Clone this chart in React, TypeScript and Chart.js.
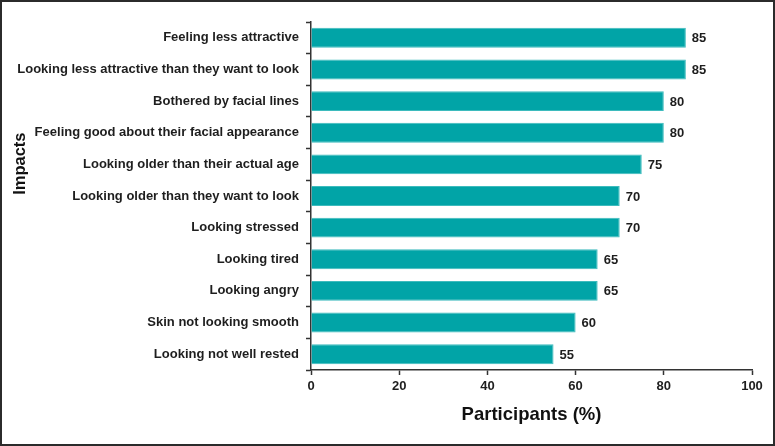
import React, { useEffect, useRef } from "react";
import { Chart, registerables } from "chart.js";

Chart.register(...registerables);

const categories: string[] = [
  "Feeling less attractive",
  "Looking less attractive than they want to look",
  "Bothered by facial lines",
  "Feeling good about their facial appearance",
  "Looking older than their actual age",
  "Looking older than they want to look",
  "Looking stressed",
  "Looking tired",
  "Looking angry",
  "Skin not looking smooth",
  "Looking not well rested",
];

const participants: number[] = [85, 85, 80, 80, 75, 70, 70, 65, 65, 60, 55];

const xTicks: number[] = [0, 20, 40, 60, 80, 100];

const yTitle = "Impacts";
const xTitle = "Participants (%)";

const FONT = "'Liberation Sans', Arial, sans-serif";
const TEXT = "#1e1e1e";
const AXIS = "#333333";

const valueLabels = {
  id: "valueLabels",
  afterDatasetsDraw(chart: any) {
    const ctx = chart.ctx;
    const meta = chart.getDatasetMeta(0);
    ctx.save();
    ctx.font = `bold 13px ${FONT}`;
    ctx.fillStyle = TEXT;
    ctx.textAlign = "left";
    ctx.textBaseline = "middle";
    meta.data.forEach((bar: any, i: number) => {
      const v = chart.data.datasets[0].data[i];
      ctx.fillText(String(v), bar.x + 6, bar.y + 1);
    });
    ctx.restore();
  },
};

// y-axis title, placed where the reference has it (above the plot's centre)
const yAxisTitle = {
  id: "yAxisTitle",
  afterDraw(chart: any) {
    const ctx = chart.ctx;
    const area = chart.chartArea;
    ctx.save();
    ctx.font = `bold 16.5px ${FONT}`;
    ctx.fillStyle = "#111";
    ctx.textAlign = "center";
    ctx.textBaseline = "middle";
    ctx.translate(18, area.top + (area.bottom - area.top) * 0.407);
    ctx.rotate(-Math.PI / 2);
    ctx.fillText(yTitle, 0, 0);
    ctx.restore();
  },
};

export default function App() {
  const ref = useRef<HTMLCanvasElement | null>(null);

  useEffect(() => {
    document.body.style.margin = "0";
    const canvas = ref.current;
    if (!canvas) return;
    const chart = new Chart(canvas, {
      type: "bar",
      data: {
        labels: categories,
        datasets: [
          {
            data: participants,
            backgroundColor: "#01A4A7",
            borderColor: "#3dbbbd",
            borderWidth: 1,
            barPercentage: 0.63,
            categoryPercentage: 1,
          },
        ],
      },
      options: {
        indexAxis: "y",
        responsive: false,
        animation: false,
        layout: { padding: { top: 20, right: 21, left: 0, bottom: 0 } },
        plugins: {
          legend: { display: false },
          tooltip: { enabled: false },
        },
        scales: {
          x: {
            type: "linear",
            min: 0,
            max: 100,
            afterBuildTicks: (scale: any) => {
              scale.ticks = xTicks.map((v) => ({ value: v }));
            },
            afterFit: (scale: any) => {
              scale.height = 74;
            },
            ticks: {
              color: TEXT,
              font: { family: FONT, size: 13, weight: "bold" },
              padding: 4,
            },
            grid: {
              display: true,
              drawOnChartArea: false,
              drawTicks: true,
              tickLength: 5,
              tickColor: AXIS,
              tickWidth: 1.5,
            },
            border: { display: true, color: AXIS, width: 1.5 },
            title: {
              display: true,
              text: xTitle,
              color: "#111",
              font: { family: FONT, size: 18.5, weight: "bold" },
              padding: { top: 0, bottom: 18 },
            },
          },
          y: {
            type: "category",
            afterFit: (scale: any) => {
              scale.width = 309;
            },
            ticks: {
              color: TEXT,
              font: { family: FONT, size: 13, weight: "bold" },
              padding: 7,
            },
            grid: {
              display: true,
              offset: true,
              drawOnChartArea: false,
              drawTicks: true,
              tickLength: 5,
              tickColor: AXIS,
              tickWidth: 1.5,
            },
            border: { display: true, color: AXIS, width: 1.5 },
            title: { display: false },
          },
        },
      },
      plugins: [valueLabels, yAxisTitle],
    } as any);
    return () => chart.destroy();
  }, []);

  return (
    <div
      style={{
        width: 775,
        height: 446,
        boxSizing: "border-box",
        border: "2px solid #2b2b2b",
        background: "#ffffff",
      }}
    >
      <canvas ref={ref} width={771} height={442} style={{ display: "block" }} />
    </div>
  );
}
